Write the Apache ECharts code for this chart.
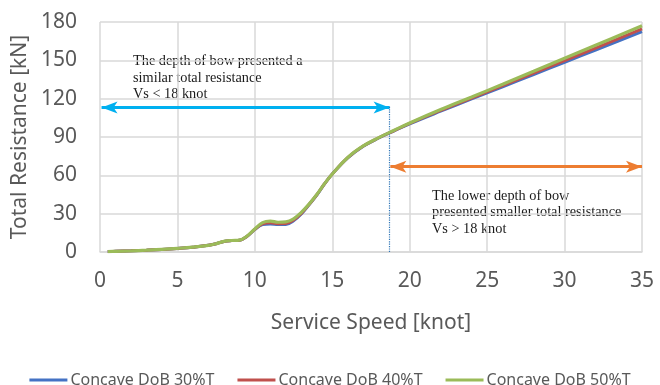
<!DOCTYPE html>
<html>
<head>
<meta charset="utf-8">
<script src="https://cdn.jsdelivr.net/npm/echarts@6/dist/echarts.min.js"></script>
<style>html,body{margin:0;padding:0;background:#fff}#c{width:660px;height:385px}</style>
</head>
<body>
<div id="c"></div>
<script>
// ---- data ----
const speed = [0.5,1,2,3,4,5,6,7,7.5,8,8.5,9,9.5,10,10.5,11,11.5,12,12.5,13,13.5,14,14.5,15,16,17,18,19,20,22,24,26,28,30,32,35];
const dob30 = [0.3,0.5,0.9,1.4,2.0,2.8,3.8,5.2,6.5,8.2,8.9,9.2,12.3,17.6,21.5,22.0,21.5,21.6,24.5,29.8,37.0,44.5,53.3,61,73.6,82.7,89.2,94.8,100.3,110.2,119.8,129.3,138.9,148.5,158.0,172.4];
const dob40 = [0.3,0.5,0.9,1.4,2.0,2.8,3.8,5.2,6.5,8.2,8.9,9.2,12.4,17.8,22.0,22.8,22.2,22.3,25.0,30.2,37.2,44.8,53.4,61,73.8,82.9,89.4,95.0,100.6,110.8,120.5,130.2,140.0,149.8,159.6,174.6];
const dob50 = [0.3,0.5,0.9,1.4,2.0,2.8,3.8,5.2,6.5,8.3,9.0,9.3,12.5,18.0,23.0,24.2,23.3,23.6,26.0,31.0,37.5,45.0,53.5,61,74,83,89.5,95.3,101,111.5,121.3,131.3,141.4,151.6,161.8,177];
const seriesNames = ['Concave DoB 30%T','Concave DoB 40%T','Concave DoB 50%T'];
const xTicks = [0,5,10,15,20,25,30,35];
const yTicks = [0,30,60,90,120,150,180];
const splitSpeed = 18.7;        // dotted divider (knot)
const blueArrow = [0.1, 18.7, 113];   // from, to, level (kN)
const orangeArrow = [18.75, 35, 66.8];
const dividerTop = 114.5;
const note1 = 'The depth of bow presented a\nsimilar total resistance\nVs < 18 knot';
const note2 = 'The lower depth of bow\npresented smaller total resistance\nVs > 18 knot';

const colors = ['#4472C4','#C0504D','#9BBB59'];
const chart = echarts.init(document.getElementById('c'), null, {renderer:'canvas'});
const sans = '"Noto Sans", "Open Sans", sans-serif';
const lineSeries = [dob30, dob40, dob50].map((vals, i) => ({
  name: seriesNames[i],
  type: 'line',
  data: speed.map((s, k) => [s, vals[k]]),
  smooth: 0.4,
  symbol: 'none',
  lineStyle: { width: i === 2 ? 3.2 : 3, color: colors[i] },
  itemStyle: { color: colors[i] },
  z: 3 + i,
  animation: false
}));

chart.setOption({
  animation: false,
  grid: { left: 100, right: 18, top: 22, bottom: 133, containLabel: false },
  legend: {
    top: 367, left: 'center',
    data: seriesNames,
    icon: 'rect', itemWidth: 38, itemHeight: 3, itemGap: 23,
    textStyle: { color: '#595959', fontSize: 16, fontFamily: sans, padding: [0,0,0,-2] }
  },
  xAxis: {
    type: 'value', min: 0, max: 35, interval: 5,
    name: 'Service Speed [knot]', nameLocation: 'middle', nameGap: 61,
    nameTextStyle: { color: '#595959', fontSize: 21, fontFamily: sans },
    axisLine: { show: true, lineStyle: { color: '#D9D9D9', width: 1.5 } },
    axisTick: { show: false },
    axisLabel: { color: '#595959', fontSize: 21, fontFamily: sans, margin: 19,
      formatter: v => xTicks.includes(v) ? String(v) : '' },
    splitLine: { show: true, lineStyle: { color: '#D9D9D9', width: 1.5 } }
  },
  yAxis: {
    type: 'value', min: 0, max: 180, interval: 30,
    name: 'Total Resistance [kN]', nameLocation: 'middle', nameGap: 66,
    nameTextStyle: { color: '#595959', fontSize: 21, fontFamily: sans },
    axisLine: { show: false },
    axisTick: { show: false },
    axisLabel: { color: '#595959', fontSize: 21, fontFamily: sans, margin: 23,
      formatter: v => yTicks.includes(v) ? String(v) : '' },
    splitLine: { show: true, lineStyle: { color: '#D9D9D9', width: 1.5 } }
  },
  series: lineSeries.concat([{
    type: 'line', data: [], silent: true, clip: false, z: 10,
    markLine: {
      silent: true, animation: false,
      label: { show: false },
      emphasis: { disabled: true },
      data: [
        [ { coord: [blueArrow[0], blueArrow[2]], symbol: 'arrow', symbolSize: [9, 16],
            lineStyle: { color: '#00B0F0', width: 3, type: 'solid' } },
          { coord: [blueArrow[1], blueArrow[2]], symbol: 'arrow', symbolSize: [9, 16] } ],
        [ { coord: [orangeArrow[0], orangeArrow[2]], symbol: 'arrow', symbolSize: [9, 16],
            lineStyle: { color: '#ED7D31', width: 3, type: 'solid' } },
          { coord: [orangeArrow[1], orangeArrow[2]], symbol: 'arrow', symbolSize: [9, 16] } ],
        [ { coord: [splitSpeed, 0], symbol: 'none',
            lineStyle: { color: '#2E75B6', width: 1.2, type: 'dotted' } },
          { coord: [splitSpeed, dividerTop], symbol: 'none' } ]
      ]
    }
  }]),
  graphic: [
    { type: 'text', left: 133, top: 53, silent: true,
      style: { text: note1, font: '14.3px "Liberation Serif", "Times New Roman", serif', fill: '#1a1a1a', lineHeight: 16.5 } },
    { type: 'text', left: 432, top: 187.5, silent: true,
      style: { text: note2, font: '14.3px "Liberation Serif", "Times New Roman", serif', fill: '#1a1a1a', lineHeight: 16.5 } }
  ]
});
</script>
</body>
</html>
